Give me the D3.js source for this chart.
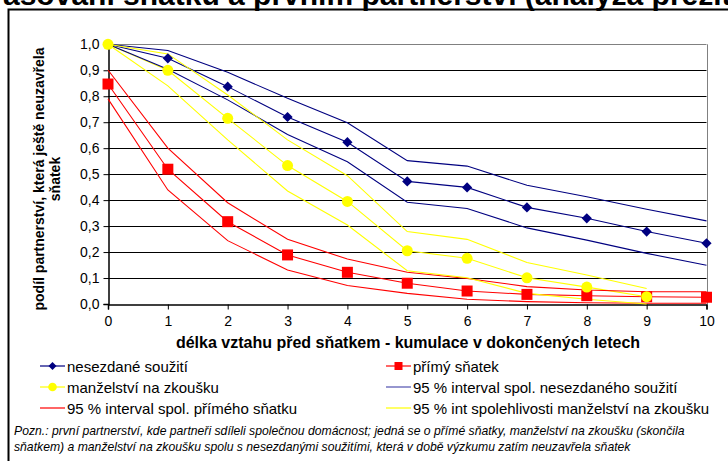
<!DOCTYPE html>
<html><head><meta charset="utf-8">
<script src="https://cdn.jsdelivr.net/npm/d3@7"></script>
<style>
html,body{margin:0;padding:0;background:#fff;overflow:hidden}
svg{display:block}
text{font-family:Arial,"Liberation Sans",sans-serif}
</style></head>
<body>
<script>
// ---- data ----
const years = [0,1,2,3,4,5,6,7,8,9,10];
const nesezdane      = [1.0, 0.946, 0.837, 0.720, 0.623, 0.472, 0.449, 0.372, 0.330, 0.279, 0.234];
const nesezdaneUpper = [1.0, 0.976, 0.892, 0.792, 0.698, 0.552, 0.531, 0.457, 0.413, 0.365, 0.320];
const nesezdaneLower = [1.0, 0.904, 0.786, 0.653, 0.548, 0.392, 0.368, 0.293, 0.246, 0.195, 0.149];
const primy          = [0.847, 0.519, 0.317, 0.189, 0.122, 0.080, 0.050, 0.037, 0.032, 0.028, 0.026];
const primyUpper     = [0.901, 0.600, 0.390, 0.249, 0.173, 0.122, 0.098, 0.067, 0.054, 0.047, 0.047];
const primyLower     = [0.790, 0.439, 0.244, 0.131, 0.071, 0.041, 0.018, 0.009, 0.005, 0.003, 0.003];
const zkouska        = [1.0, 0.900, 0.715, 0.533, 0.395, 0.205, 0.176, 0.101, 0.065, 0.028];
const zkouskaUpper   = [1.0, 0.963, 0.805, 0.632, 0.494, 0.279, 0.249, 0.160, 0.112, 0.060];
const zkouskaLower   = [1.0, 0.840, 0.632, 0.435, 0.304, 0.128, 0.101, 0.041, 0.018, 0.000];
const yTicks = [0,0.1,0.2,0.3,0.4,0.5,0.6,0.7,0.8,0.9,1.0];
const legendLabels = ["nesezdané soužití","přímý sňatek","manželství na zkoušku",
  "95 % interval spol. nesezdaného soužití","95 % interval spol.  přímého sňatku",
  "95 % int spolehlivosti manželství na zkoušku"];
const titleText = "asování sňatku a prvním partnerství (analýza přežití)";
const xTitle = "délka vztahu před sňatkem - kumulace v dokončených letech";
const yTitle1 = "podíl partnerství, která ještě neuzavřela";
const yTitle2 = "sňatek";
const note1 = "Pozn.: první partnerství, kde partneři sdíleli společnou domácnost; jedná se o přímé sňatky, manželství na zkoušku (skončila";
const note2 = "sňatkem) a manželství na zkoušku spolu s nesezdanými soužitími, která v době výzkumu zatím neuzavřela sňatek";

const W=728,H=461;
const svg=d3.select("body").append("svg").attr("width",W).attr("height",H);

// title (cut off at top, as in the source)
svg.append("text").attr("x",3).attr("y",4.5).attr("font-family","'Liberation Serif','Times New Roman',serif")
  .attr("font-weight","bold").attr("font-size",30).text(titleText);
// frame
svg.append("rect").attr("x",8.5).attr("y",9.5).attr("width",760).attr("height",480)
  .attr("fill","none").attr("stroke","#000").attr("stroke-width",2);

const x=d3.scaleLinear().domain([0,10]).range([108,706.5]);
const y=d3.scaleLinear().domain([0,1]).range([304,44.3]);

// gridlines
svg.append("g").selectAll("line").data(yTicks.filter(d=>d>0&&d<1)).join("line")
  .attr("x1",x(0)).attr("x2",x(10)).attr("y1",d=>Math.round(y(d))+0.5).attr("y2",d=>Math.round(y(d))+0.5)
  .attr("stroke","#000").attr("stroke-width",1);
// top and right border gray
svg.append("line").attr("x1",x(0)).attr("x2",x(10)).attr("y1",Math.round(y(1))+0.5).attr("y2",Math.round(y(1))+0.5).attr("stroke","#808080");
svg.append("line").attr("x1",Math.round(x(10))+0.5).attr("x2",Math.round(x(10))+0.5).attr("y1",y(1)).attr("y2",y(0)).attr("stroke","#808080");

// axes
const yAxis=d3.axisLeft(y).tickValues(yTicks).tickFormat(d=>d3.format(".1f")(d).replace(".",",")).tickSize(5).tickPadding(4);
const gy=svg.append("g").attr("transform",`translate(${Math.round(x(0))+0.5},0)`).call(yAxis);
const xAxis=d3.axisBottom(x).tickValues(years).tickFormat(d=>d).tickSize(5).tickPadding(7);
const gx=svg.append("g").attr("transform",`translate(0,${Math.round(y(0))+0.5})`).call(xAxis);
[gx,gy].forEach(g=>{g.select(".domain").attr("stroke","#000").attr("stroke-width",1.5);
  g.selectAll(".tick line").attr("stroke","#000");
  g.selectAll(".tick text").attr("font-size",14).attr("font-family","Arial,'Liberation Sans',sans-serif").attr("fill","#000");});

// axis titles
svg.append("text").attr("x",408).attr("y",348).attr("text-anchor","middle").attr("font-weight","bold")
  .attr("font-size",16).text(xTitle);
svg.append("text").attr("transform","translate(44,179) rotate(-90)").attr("text-anchor","middle")
  .attr("font-weight","bold").attr("font-size",14).text(yTitle1);
svg.append("text").attr("transform","translate(60,179) rotate(-90)").attr("text-anchor","middle")
  .attr("font-weight","bold").attr("font-size",14).text(yTitle2);

const line=d3.line().x((d,i)=>x(years[i])).y(d=>y(d));
const NAVY="#000080",RED="#FF0000",YEL="#FFFF00";
const lines=[[nesezdane,NAVY],[primy,RED],[zkouska,YEL],
  [nesezdaneUpper,NAVY],[nesezdaneLower,NAVY],[primyUpper,RED],[primyLower,RED],[zkouskaUpper,YEL],[zkouskaLower,YEL]];
svg.append("g").selectAll("path").data(lines).join("path")
  .attr("d",d=>line(d[0])).attr("fill","none").attr("stroke",d=>d[1]).attr("stroke-width",1.1);

// markers
svg.append("g").selectAll("path").data(nesezdane).join("path")
  .attr("d",d3.symbol().type(d3.symbolSquare).size(52)).attr("transform",(d,i)=>`translate(${x(years[i])},${y(d)}) rotate(45)`)
  .attr("fill",NAVY);
svg.append("g").selectAll("rect").data(primy).join("rect")
  .attr("x",(d,i)=>x(years[i])-5.5).attr("y",d=>y(d)-5.5).attr("width",11).attr("height",11).attr("fill",RED);
svg.append("g").selectAll("circle").data(zkouska).join("circle")
  .attr("cx",(d,i)=>x(years[i])).attr("cy",d=>y(d)).attr("r",5.5).attr("fill",YEL);

// legend
const legCols=[40,386], legRows=[366,387,408];
legendLabels.forEach((lab,i)=>{
  const cx=legCols[i%2], cy=legRows[Math.floor(i/2)];
  const col=[NAVY,RED,YEL,"#5050b0",RED,YEL][i];
  const g=svg.append("g");
  g.append("line").attr("x1",cx).attr("x2",cx+25).attr("y1",cy).attr("y2",cy).attr("stroke",col).attr("stroke-width",1.2);
  if(i===0) g.append("path").attr("d",d3.symbol().type(d3.symbolSquare).size(32)()).attr("transform",`translate(${cx+12.5},${cy}) rotate(45)`).attr("fill",NAVY);
  if(i===1) g.append("rect").attr("x",cx+8.5).attr("y",cy-4).attr("width",8).attr("height",8).attr("fill",RED);
  if(i===2) g.append("circle").attr("cx",cx+12.5).attr("cy",cy).attr("r",4.3).attr("fill",YEL);
  g.append("text").attr("x",cx+27).attr("y",cy+5.5).attr("font-size",15).text(lab);
});

// note
svg.append("text").attr("x",14).attr("y",435).attr("font-size",12.2).attr("font-style","italic").text(note1);
svg.append("text").attr("x",14).attr("y",451).attr("font-size",12.2).attr("font-style","italic").text(note2);
</script>
</body></html>
